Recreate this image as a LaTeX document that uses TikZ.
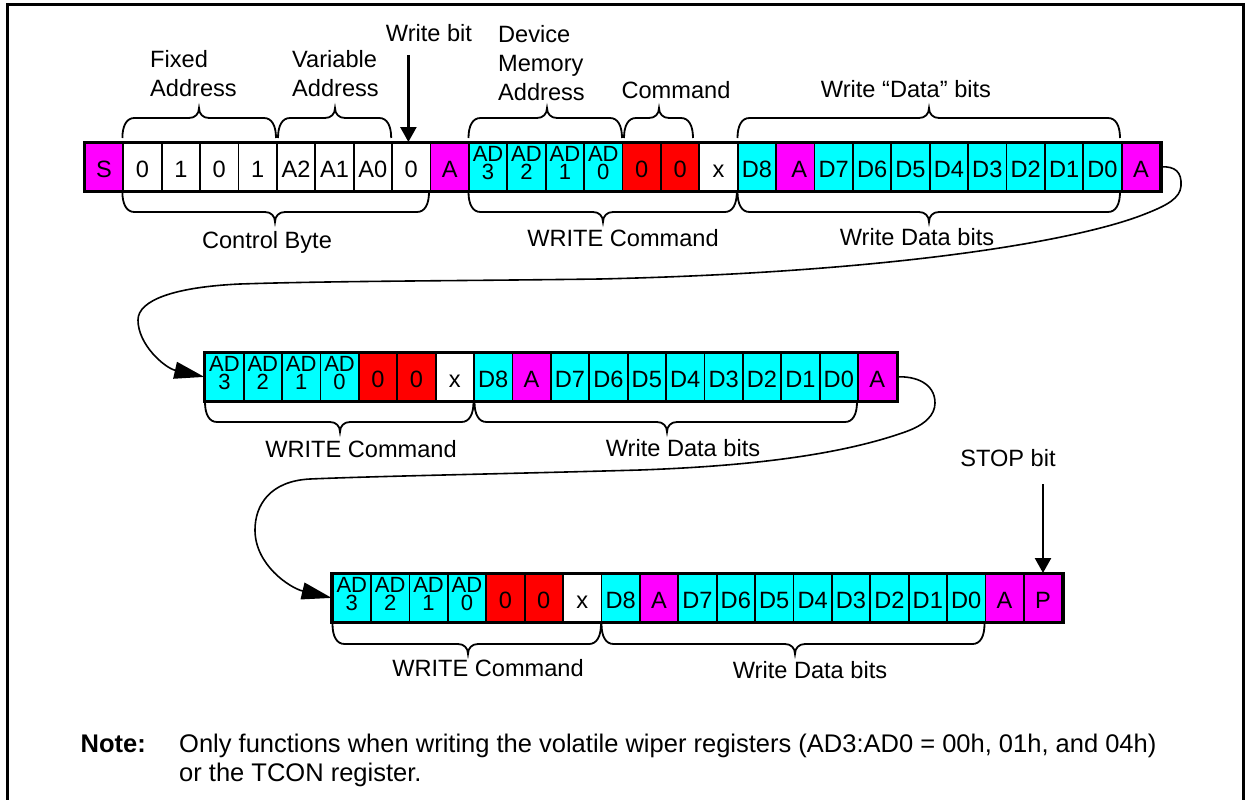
\documentclass[tikz,border=0pt]{standalone}
\usepackage{fontspec}
\setmainfont{Liberation Sans}
\usetikzlibrary{arrows.meta}
\definecolor{mg}{RGB}{255,0,255}
\definecolor{cy}{RGB}{0,255,255}
\definecolor{rd}{RGB}{255,0,0}
\definecolor{wh}{RGB}{255,255,255}
\newcommand\adtxt[1]{{\fontsize{22pt}{22pt}\selectfont\makebox[0pt]{\raisebox{16.5pt}{AD}}\makebox[0pt]{\raisebox{-1.5pt}{#1}}}}
% brace: x1, x2, xtip, y of ends, direction (-1 up, 1 down)
\newcommand\brc[5]{%
\draw[brl] (#1,#4) .. controls (#1,{#4+(#5)*12}) and ({#1+4},{#4+(#5)*20}) .. ({#1+12},{#4+(#5)*20})
 -- ({#3-10},{#4+(#5)*20}) .. controls ({#3-4},{#4+(#5)*20}) and (#3,{#4+(#5)*24}) .. (#3,{#4+(#5)*30})
 .. controls (#3,{#4+(#5)*24}) and ({#3+4},{#4+(#5)*20}) .. ({#3+10},{#4+(#5)*20})
 -- ({#2-12},{#4+(#5)*20}) .. controls ({#2-4},{#4+(#5)*20}) and (#2,{#4+(#5)*12}) .. (#2,#4);}
\begin{document}
\begin{tikzpicture}[x=1pt,y=-1pt,
 every node/.style={font=\fontsize{23.6pt}{29pt}\selectfont},
 cell/.style={draw=black, line width=1.8pt, anchor=north west, minimum width=38.4pt,
   minimum height=48pt, inner sep=0pt, text height=22pt, text depth=0pt},
 rowframe/.style={draw=black, line width=3pt},
 lbl/.style={inner sep=0pt, anchor=base},
 mlbl/.style={inner sep=0pt, anchor=west, align=left},
 brl/.style={line width=1.8pt},
 ptr/.style={line width=2.5pt, -{Triangle[length=15pt,width=16pt]}},
 link/.style={line width=1.6pt, -{Triangle[length=30pt,width=17pt]}},
 notefont/.style={font=\fontsize{25.5pt}{29pt}\selectfont}
]
\useasboundingbox (0,0) rectangle (1251,800);
% frame
\draw[line width=3pt] (7,800) -- (7,5) -- (1243,5) -- (1243,800);

% row 1
\foreach \t/\c [count=\i] in {S/mg,0/wh,1/wh,0/wh,1/wh,A2/wh,A1/wh,A0/wh,0/wh,A/mg,
  {\adtxt3}/cy,{\adtxt2}/cy,{\adtxt1}/cy,{\adtxt0}/cy,0/rd,0/rd,x/wh,D8/cy,{\kern8pt A}/mg,
  D7/cy,D6/cy,D5/cy,D4/cy,D3/cy,D2/cy,D1/cy,D0/cy,A/mg}
  \node[cell, fill=\c] (ra\i) at ({84+38.4*(\i-1)},142) {\t};
\draw[rowframe] (ra1.north west) rectangle (ra28.south east);

% row 2
\foreach \t/\c [count=\i] in {{\adtxt3}/cy,{\adtxt2}/cy,{\adtxt1}/cy,{\adtxt0}/cy,0/rd,0/rd,x/wh,D8/cy,A/mg,
  D7/cy,D6/cy,D5/cy,D4/cy,D3/cy,D2/cy,D1/cy,D0/cy,A/mg}
  \node[cell, fill=\c] (rb\i) at ({204.3+38.4*(\i-1)},352) {\t};
\draw[rowframe] (rb1.north west) rectangle (rb18.south east);

% row 3
\foreach \t/\c [count=\i] in {{\adtxt3}/cy,{\adtxt2}/cy,{\adtxt1}/cy,{\adtxt0}/cy,0/rd,0/rd,x/wh,D8/cy,A/mg,
  D7/cy,D6/cy,D5/cy,D4/cy,D3/cy,D2/cy,D1/cy,D0/cy,A/mg,P/mg}
  \node[cell, fill=\c] (rc\i) at ({331.7+38.4*(\i-1)},573) {\t};
\draw[rowframe] (rc1.north west) rectangle (rc19.south east);

% braces row 1
\brc{122.4}{276}{199}{138}{-1}
\brc{278}{391.2}{335}{138}{-1}
\brc{468.5}{622}{547}{138}{-1}
\brc{624}{693}{659}{138}{-1}
\brc{737.5}{1120}{929}{138}{-1}
\brc{122.4}{429}{275}{192}{1}
\brc{468.5}{736.8}{603}{192}{1}
\brc{737.5}{1120}{929}{192}{1}
% braces row 2
\brc{205}{473.5}{340}{402}{1}
\brc{474.5}{857}{667}{402}{1}
% braces row 3
\brc{332.5}{601}{468}{624}{1}
\brc{601.5}{984.5}{795}{624}{1}

% labels
\node[mlbl] (lfix) at (150,73.5) {Fixed\\Address};
\node[mlbl] (lvar) at (292,73.5) {Variable\\Address};
\node[mlbl] (ldev) at (498,63.5) {Device\\Memory\\Address};
\node[lbl] (lwb) at (429,41.5) {Write bit};
\node[lbl] (lcmd) at (676,98.5) {Command};
\node[lbl] (lwdq) at (906,97.5) {Write “Data” bits};
\node[lbl] (lcb) at (267,248.5) {Control Byte};
\node[lbl] (lwc1) at (623,246.5) {WRITE Command};
\node[lbl] (lwd1) at (917,245.5) {Write Data bits};
\node[lbl] (lwc2) at (361,457.5) {WRITE Command};
\node[lbl] (lwd2) at (683,456.5) {Write Data bits};
\node[lbl] (lwc3) at (488,676.5) {WRITE Command};
\node[lbl] (lwd3) at (810,678.5) {Write Data bits};
\node[lbl] (lstop) at (1008,466.5) {STOP bit};

% pointer arrows
\coordinate (wbtop) at (408.4,55);
\draw[ptr] (wbtop) -- (wbtop |- ra9.north);
\coordinate (sbtop) at (rc19.north |- 0,484);
\draw[ptr] (sbtop) -- (rc19.north);

% links between rows
\draw[link] (ra28.east) .. controls (1175,166) and (1182,172) .. (1181,186)
  .. controls (1180,198) and (1168,205) .. (1145,214)
  .. controls (1080,240) and (900,272) .. (600,279)
  .. controls (450,281) and (330,281) .. (240,284)
  .. controls (175,287) and (138,300) .. (138,320)
  .. controls (138,345) and (165,368) .. (rb1.west);
\draw[link] (rb18.east) .. controls (915,376) and (935,383) .. (935,403)
  .. controls (935,415) and (925,425) .. (905,432)
  .. controls (840,455) and (750,466) .. (640,470)
  .. controls (500,474) and (380,476) .. (310,479)
  .. controls (270,481) and (255,505) .. (255,530)
  .. controls (255,565) and (290,588) .. (rc1.west);

% note
\node[lbl, notefont, anchor=base east] (nlab) at (146,752) {\textbf{Note:}};
\node[notefont, inner sep=0pt, anchor=north west, align=left] (ntxt) at (179,733.5)
  {Only functions when writing the volatile wiper registers (AD3:AD0 = 00h, 01h, and 04h)\\or the TCON register.};
\end{tikzpicture}
\end{document}
